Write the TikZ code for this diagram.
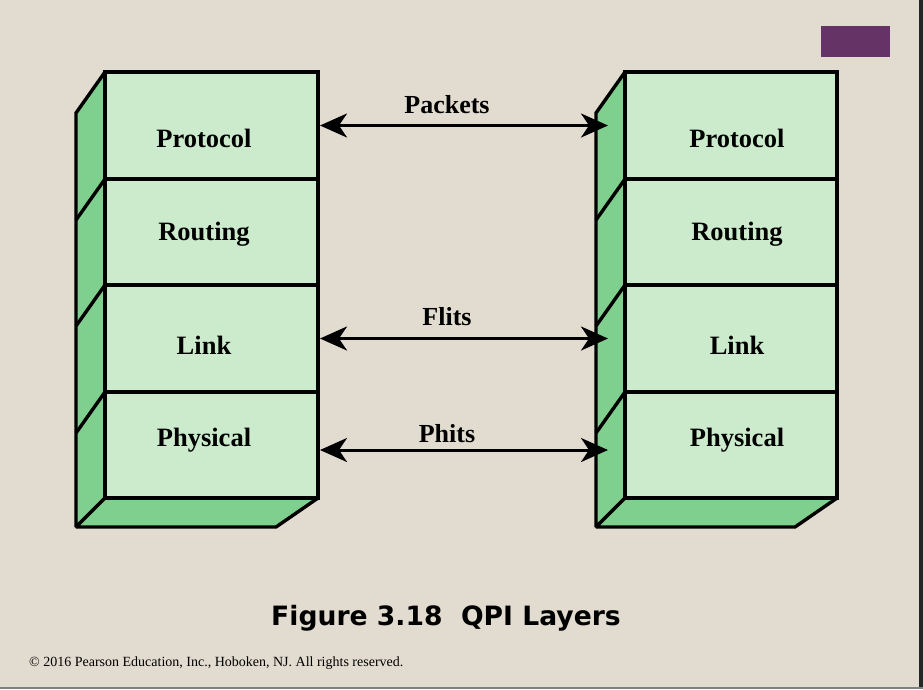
\documentclass[tikz,border=0pt]{standalone}
\usepackage{fontspec}
\setmainfont{Liberation Serif}
\newfontfamily\titlefont{DejaVu Sans}
\usetikzlibrary{arrows.meta}
\definecolor{bgbeige}{RGB}{226,219,207}
\definecolor{facegreen}{RGB}{204,235,204}
\definecolor{sidegreen}{RGB}{127,208,143}
\definecolor{tagpurple}{RGB}{102,51,102}
\tikzset{
  layerbox/.style={draw=black, line width=3.4pt, fill=facegreen, minimum width=213pt,
    anchor=north west, inner sep=0pt, outer sep=0pt},
  sideface/.style={draw=black, line width=3.4pt, fill=sidegreen, line join=miter, miter limit=2},
  edgeline/.style={draw=black, line width=3.4pt},
  layertext/.style={anchor=base, font=\bfseries\fontsize{26.5}{30}\selectfont},
  msgtext/.style={anchor=base, font=\bfseries\fontsize{26}{30}\selectfont},
  dblarrow/.style={line width=3pt, {Stealth[length=27pt,width=24pt,inset=8pt]}-{Stealth[length=27pt,width=24pt,inset=8pt]}},
}
\begin{document}
\begin{tikzpicture}[x=1pt,y=-1pt]
\fill[bgbeige] (0,0) rectangle (923,689);
\useasboundingbox (0,0) rectangle (923,689);
\fill[black!85] (919,0) rectangle (923,689);
\fill[gray] (0,687) rectangle (923,689);
\fill[tagpurple] (821,26) rectangle (890,57);

% ---------- left stack ----------
\path[sideface] (105,72) -- (76,113) -- (76,527) -- (105,498) -- cycle;
\path[sideface] (105,498) -- (318,498) -- (276,527) -- (76,527) -- cycle;
\node[layerbox, minimum height=107pt] (LPro) at (105,72) {};
\node[layerbox, minimum height=106pt] (LRou) at (105,179) {};
\node[layerbox, minimum height=107pt] (LLnk) at (105,285) {};
\node[layerbox, minimum height=106pt] (LPhy) at (105,392) {};
\draw[edgeline] (LRou.north west) -- ++(-29,41);
\draw[edgeline] (LLnk.north west) -- ++(-29,41);
\draw[edgeline] (LPhy.north west) -- ++(-29,41);

% ---------- right stack ----------
\path[sideface] (625,72) -- (596,113) -- (596,527) -- (625,498) -- cycle;
\path[sideface] (625,498) -- (837,498) -- (795,527) -- (596,527) -- cycle;
\node[layerbox, minimum width=212pt, minimum height=107pt] (RPro) at (625,72) {};
\node[layerbox, minimum width=212pt, minimum height=106pt] (RRou) at (625,179) {};
\node[layerbox, minimum width=212pt, minimum height=107pt] (RLnk) at (625,285) {};
\node[layerbox, minimum width=212pt, minimum height=106pt] (RPhy) at (625,392) {};
\draw[edgeline] (RRou.north west) -- ++(-29,41);
\draw[edgeline] (RLnk.north west) -- ++(-29,41);
\draw[edgeline] (RPhy.north west) -- ++(-29,41);

% ---------- layer labels ----------
\node[layertext] (tLPro) at (204,147) {Protocol};
\node[layertext] (tLRou) at (204,240) {Routing};
\node[layertext] (tLLnk) at (204,354) {Link};
\node[layertext] (tLPhy) at (204,446) {Physical};
\node[layertext] (tRPro) at (737,147) {Protocol};
\node[layertext] (tRRou) at (737,240) {Routing};
\node[layertext] (tRLnk) at (737,354) {Link};
\node[layertext] (tRPhy) at (737,446) {Physical};

% ---------- arrows ----------
\draw[dblarrow] ([xshift=2pt]LPro.east) -- ([xshift=-17pt]RPro.west);
\draw[dblarrow] ([xshift=2pt]LLnk.east) -- ([xshift=-17pt]RLnk.west);
\draw[dblarrow] ([xshift=2pt,yshift=-5pt]LPhy.east) -- ([xshift=-17pt,yshift=-5pt]RPhy.west);
\node[msgtext] (mPk) at (447,113) {Packets};
\node[msgtext] (mFl) at (447,325) {Flits};
\node[msgtext] (mPh) at (447,442) {Phits};

% ---------- caption ----------
\node[anchor=base] (cap) at (446,625) {\titlefont\bfseries\fontsize{26.6}{30}\selectfont Figure 3.18\ \ QPI Layers};
\node[anchor=base west, inner sep=0pt] (copy) at (29,666) {\fontsize{14}{16}\selectfont © 2016 Pearson Education, Inc., Hoboken, NJ. All rights reserved.};
\end{tikzpicture}
\end{document}
